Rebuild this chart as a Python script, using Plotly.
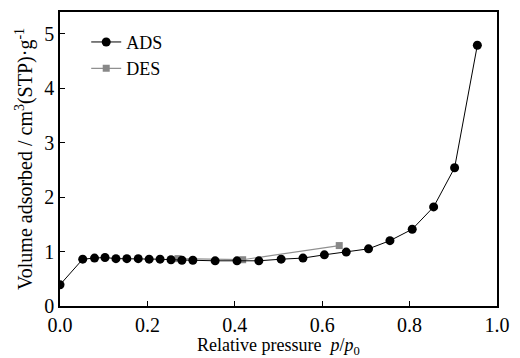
import plotly.graph_objects as go

ads_x = [0.0, 0.052, 0.079, 0.103, 0.128, 0.153, 0.179, 0.204, 0.229, 0.254, 0.279, 0.304,
         0.355, 0.405, 0.455, 0.506, 0.556, 0.605, 0.655, 0.706, 0.755, 0.806, 0.855, 0.903, 0.955]
ads_y = [0.39, 0.86, 0.88, 0.89, 0.87, 0.87, 0.87, 0.86, 0.86, 0.85, 0.84, 0.84,
         0.83, 0.83, 0.83, 0.86, 0.88, 0.94, 0.99, 1.05, 1.20, 1.41, 1.82, 2.54, 4.79]
des_x = [0.27, 0.418, 0.639]
des_y = [0.87, 0.85, 1.11]

x_ticks = [0.0, 0.2, 0.4, 0.6, 0.8, 1.0]
x_ticklabels = ["0.0", "0.2", "0.4", "0.6", "0.8", "1.0"]
y_ticks = [0, 1, 2, 3, 4, 5]
y_ticklabels = ["0", "1", "2", "3", "4", "5"]

font = "Liberation Serif"

fig = go.Figure()
fig.add_trace(go.Scatter(x=des_x, y=des_y, name="DES", mode="lines+markers",
                         line=dict(color="#909090", width=1.2),
                         marker=dict(symbol="square", size=7, color="#888888")))
fig.add_trace(go.Scatter(x=ads_x, y=ads_y, name="ADS", mode="lines+markers",
                         line=dict(color="#000000", width=1),
                         marker=dict(symbol="circle", size=9, color="#000000")))

axis_common = dict(showline=True, linecolor="black", linewidth=1.5, mirror=True,
                   ticks="inside", ticklen=5, tickwidth=1.2, tickcolor="black",
                   showgrid=False, zeroline=False,
                   tickfont=dict(family=font, size=20, color="black"))

fig.update_xaxes(range=[0, 1.0], tickvals=x_ticks, ticktext=x_ticklabels,
                 title=dict(text="Relative pressure  <i>p</i>/<i>p</i><sub>0</sub>",
                            font=dict(family=font, size=18, color="black"), standoff=0),
                 **axis_common)
fig.update_yaxes(range=[0, 5.4], tickvals=y_ticks, ticktext=y_ticklabels,
                 title=dict(text="Volume adsorbed / cm<sup>3</sup>(STP)·g<sup>-1</sup>",
                            font=dict(family=font, size=20, color="black"), standoff=6),
                 **axis_common)

fig.update_layout(
    width=520, height=358,
    margin=dict(l=60, r=14, t=10, b=50),
    plot_bgcolor="white", paper_bgcolor="white",
    legend=dict(x=0.06, y=0.96, xanchor="left", yanchor="top",
                traceorder="reversed", bgcolor="rgba(0,0,0,0)",
                font=dict(family=font, size=18, color="black"),
                itemwidth=30, tracegroupgap=0),
    showlegend=True,
)

fig.write_html("out.html")
